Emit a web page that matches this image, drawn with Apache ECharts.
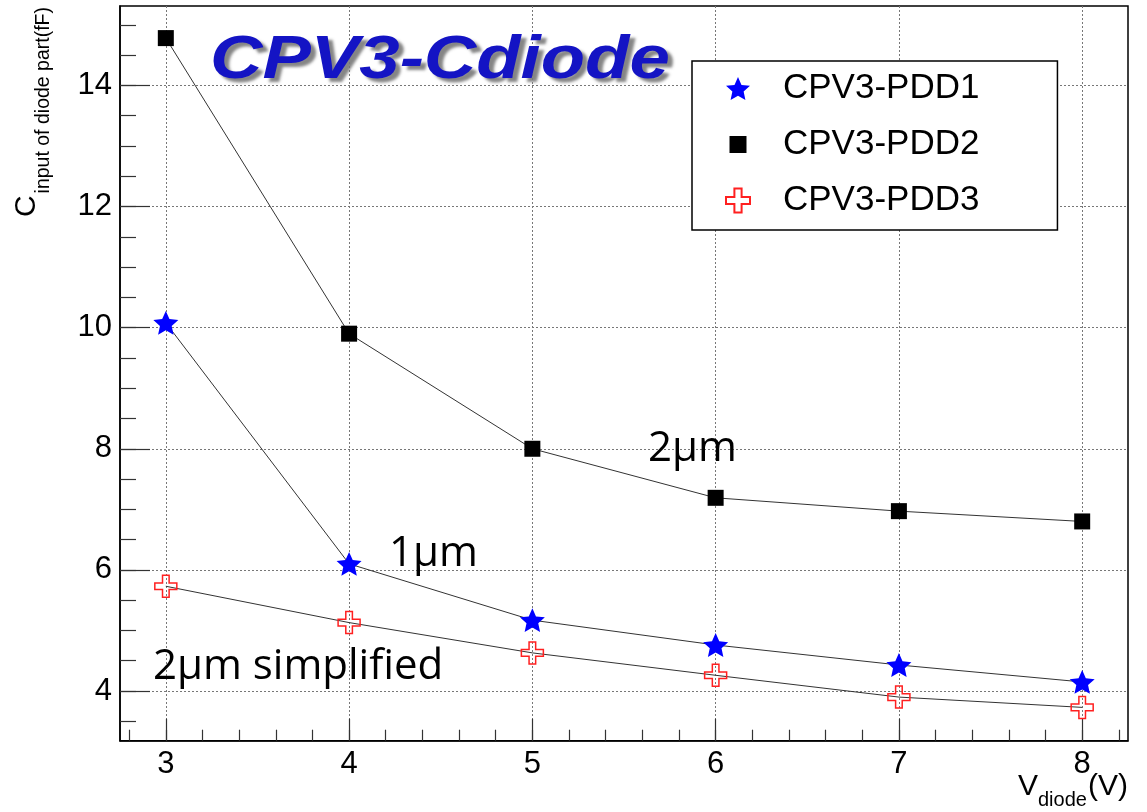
<!DOCTYPE html>
<html><head><meta charset="utf-8">
<script src="https://cdn.jsdelivr.net/npm/echarts@6/dist/echarts.min.js"></script>
<style>html,body{margin:0;padding:0;background:#fff}#c{width:1147px;height:812px}</style>
</head><body><div id="c"></div>
<script>
// ---- data ----
const voltages = [3, 4, 5, 6, 7, 8];
const seriesNames = ['CPV3-PDD1', 'CPV3-PDD2', 'CPV3-PDD3'];
const pdd1 = [10.08, 6.10, 5.17, 4.76, 4.43, 4.15];
const pdd2 = [14.78, 9.90, 8.00, 7.19, 6.97, 6.80];
const pdd3 = [5.73, 5.13, 4.63, 4.26, 3.90, 3.73];
const xTickLabels = [3, 4, 5, 6, 7, 8];
const yTickLabels = [4, 6, 8, 10, 12, 14];
const xRange = [2.75, 8.25];
const yRange = [3.18, 15.31];
const titleText = 'CPV3-Cdiode';
const annotations = ['2μm', '1μm', '2μm simplified'];

// ---- derived tick lists ----
function steps(lo, hi, step) { const out = []; for (let k = Math.ceil(lo / step - 1e-9); k * step <= hi + 1e-9; k++) out.push(Math.round(k * step * 1000) / 1000); return out; }
const xMinor = steps(xRange[0], xRange[1], 0.2);
const yMinor = steps(yRange[0], yRange[1], 0.5);

const FONT = '"Liberation Sans", Arial, sans-serif';
const STAR = 'path://M50 0 L63.81 30.99 L97.55 34.55 L72.35 57.26 L79.39 90.45 L50 73.5 L20.61 90.45 L27.65 57.26 L2.45 34.55 L36.19 30.99 Z';
const PLUS = 'path://M35 0 H65 V35 H100 V65 H65 V100 H35 V65 H0 V35 H35 Z';
const SQUARE_LEG = 'path://M0 0 M24 24 M3.5 3.5 H20.5 V20.5 H3.5 Z';

function pairs(ys) { return voltages.map((v, i) => [v, ys[i]]); }
const lineStyle = { color: '#333', width: 1 };

const chart = echarts.init(document.getElementById('c'), null, { renderer: 'canvas' });
const option = {
  animation: false,
  backgroundColor: '#fff',
  grid: { left: 120, top: 6, width: 1008, height: 734.7, show: true, borderColor: '#000', borderWidth: 1.5, backgroundColor: 'transparent', containLabel: false },
  xAxis: [
    { type: 'value', min: xRange[0], max: xRange[1], position: 'bottom',
      axisLine: { show: true, lineStyle: { color: '#000', width: 1.5 } },
      axisTick: { show: true, inside: true, length: 22, customValues: xTickLabels, lineStyle: { color: '#333', width: 1.2 } },
      axisLabel: { show: true, customValues: xTickLabels, fontFamily: FONT, fontSize: 31, color: '#000', margin: 8 },
      splitLine: { show: true, lineStyle: { color: '#777', type: [2, 2], width: 1 } } },
    { type: 'value', min: xRange[0], max: xRange[1], position: 'bottom', gridIndex: 0,
      axisLine: { show: false }, axisLabel: { show: false }, splitLine: { show: false },
      axisTick: { show: true, inside: true, length: 11, customValues: xMinor, lineStyle: { color: '#333', width: 1.2 } } }
  ],
  yAxis: [
    { type: 'value', min: yRange[0], max: yRange[1], position: 'left',
      axisLine: { show: true, lineStyle: { color: '#000', width: 1.5 } },
      axisTick: { show: true, inside: true, length: 30, customValues: yTickLabels, lineStyle: { color: '#333', width: 1.2 } },
      axisLabel: { show: true, customValues: yTickLabels, fontFamily: FONT, fontSize: 31, color: '#000', margin: 8 },
      splitLine: { show: true, lineStyle: { color: '#777', type: [2, 2], width: 1 } } },
    { type: 'value', min: yRange[0], max: yRange[1], position: 'left', gridIndex: 0,
      axisLine: { show: false }, axisLabel: { show: false }, splitLine: { show: false },
      axisTick: { show: true, inside: true, length: 16, customValues: yMinor, lineStyle: { color: '#333', width: 1.2 } } }
  ],
  legend: {
    left: 692, top: 61, orient: 'vertical', selectedMode: false,
    data: [{ name: seriesNames[0], icon: STAR }, { name: seriesNames[1], icon: SQUARE_LEG }, { name: seriesNames[2], icon: PLUS }],
    itemWidth: 24, itemHeight: 24, itemGap: 21,
    padding: [10, 78, 12, 33],
    borderColor: '#000', borderWidth: 1.5, backgroundColor: '#fff',
    textStyle: { fontFamily: FONT, fontSize: 35, color: '#000', padding: [0, 0, 0, 28] }
  },
  series: [
    { name: seriesNames[0], type: 'line', data: pairs(pdd1), symbol: STAR, symbolSize: 25, symbolKeepAspect: true,
      itemStyle: { color: '#0000ff' }, lineStyle: lineStyle, z: 3 },
    { name: seriesNames[1], type: 'line', data: pairs(pdd2), symbol: 'rect', symbolSize: 16,
      itemStyle: { color: '#000' }, lineStyle: lineStyle, z: 3 },
    { name: seriesNames[2], type: 'line', data: pairs(pdd3), symbol: PLUS, symbolSize: 22, symbolKeepAspect: true,
      itemStyle: { color: 'rgba(255,255,255,0)', borderColor: '#ff2020', borderWidth: 1.5 }, lineStyle: lineStyle, z: 3 }
  ],
  graphic: [
    { type: 'text', x: 210, y: 61, scaleX: 1.19, z: 20,
      style: { text: titleText, fontFamily: FONT, fontSize: 61, fontWeight: 'bold', fontStyle: 'italic', fill: '#1414c4',
               verticalAlign: 'middle', align: 'left',
               textShadowColor: 'rgba(120,120,120,0.9)', textShadowBlur: 3, textShadowOffsetX: 5, textShadowOffsetY: 4 } },
    { type: 'text', x: 648, y: 449, z: 20, style: { text: annotations[0], fontFamily: '"Open Sans"', fontSize: 42, fill: '#000', verticalAlign: 'middle' } },
    { type: 'text', x: 389, y: 554, z: 20, style: { text: annotations[1], fontFamily: '"Open Sans"', fontSize: 42, fill: '#000', verticalAlign: 'middle' } },
    { type: 'text', x: 153, y: 667, z: 20, style: { text: annotations[2], fontFamily: '"Open Sans"', fontSize: 42, fill: '#000', verticalAlign: 'middle' } },
    // y axis title
    { type: 'text', x: 26.5, y: 217, rotation: Math.PI / 2, z: 20, style: { text: 'C', fontFamily: FONT, fontSize: 30, fill: '#000', verticalAlign: 'middle', align: 'left' } },
    { type: 'text', x: 43.5, y: 7, rotation: Math.PI / 2, z: 20, style: { text: 'input of diode part(fF)', fontFamily: FONT, fontSize: 19.5, fill: '#000', verticalAlign: 'middle', align: 'right' } },
    // x axis title
    { type: 'text', x: 1018, y: 786.6, z: 20, style: { text: 'V', fontFamily: FONT, fontSize: 30, fill: '#000', verticalAlign: 'middle', align: 'left' } },
    { type: 'text', x: 1038, y: 800, z: 20, style: { text: 'diode', fontFamily: FONT, fontSize: 20, fill: '#000', verticalAlign: 'middle', align: 'left' } },
    { type: 'text', x: 1128, y: 786.6, z: 20, style: { text: '(V)', fontFamily: FONT, fontSize: 30, fill: '#000', verticalAlign: 'middle', align: 'right' } }
  ]
};
chart.setOption(option);
</script></body></html>
